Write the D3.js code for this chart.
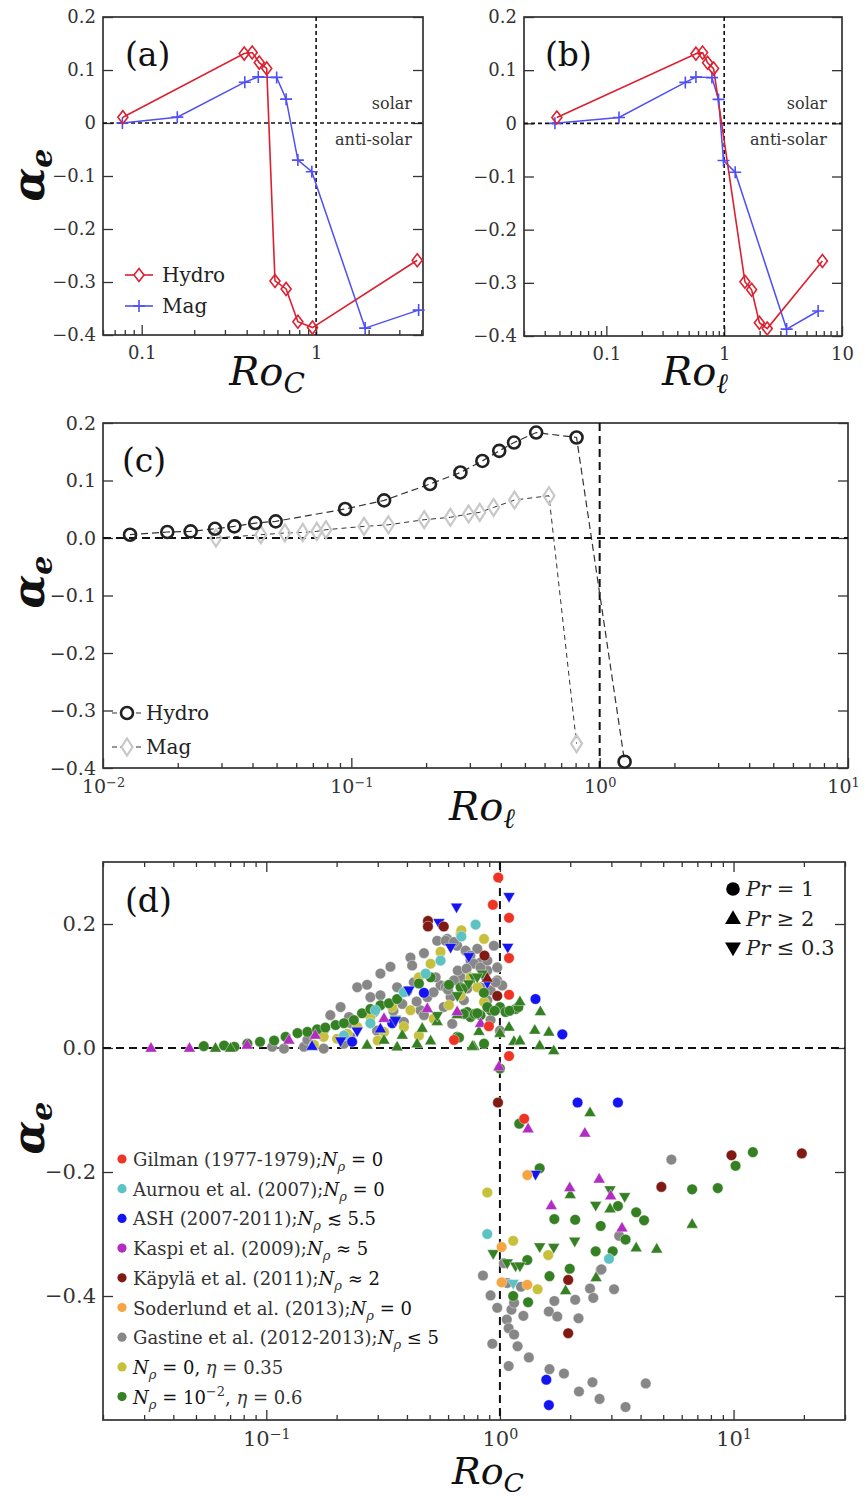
<!DOCTYPE html>
<html>
<head>
<meta charset="utf-8">
<title>alpha_e versus Rossby number</title>
<script src="https://d3js.org/d3.v7.min.js"></script>
<style>
  body { margin: 0; background: #fff; }
  text { font-family: 'DejaVu Serif', serif; }
</style>
</head>
<body>
<div id="container"></div>
<script>

// ---------- panels (a) and (b): Hydro / Mag sequences ----------
const hydroAlpha = [0.011, 0.131, 0.133, 0.114, 0.103, -0.298, -0.313, -0.375, -0.386, -0.259];
const hydroRoC   = [0.078, 0.387, 0.43, 0.472, 0.521, 0.581, 0.673, 0.786, 0.953, 3.8];
const hydroRoL   = [0.038, 0.576, 0.656, 0.723, 0.813, 1.50, 1.71, 1.99, 2.32, 6.82];

const magAlpha = [0, 0.011, 0.077, 0.087, 0.086, 0.045, -0.07, -0.092, -0.387, -0.353];
const magRoC   = [0.0775, 0.16, 0.39, 0.466, 0.594, 0.673, 0.786, 0.945, 1.91, 3.87];
const magRoL   = [0.0366, 0.128, 0.468, 0.576, 0.787, 0.896, 0.987, 1.24, 3.39, 6.27];

// ---------- panel (c) ----------
const hydroCRo    = [0.01285, 0.01815, 0.02254, 0.02825, 0.0338, 0.041, 0.0496, 0.0944, 0.1355, 0.2075, 0.275, 0.337, 0.394, 0.452, 0.555, 0.807, 1.26];
const hydroCAlpha = [0.0057, 0.0104, 0.0115, 0.016, 0.0202, 0.026, 0.029, 0.0504, 0.0654, 0.0939, 0.114, 0.134, 0.1516, 0.166, 0.1834, 0.1748, -0.389];
const magCRo      = [0.0285, 0.0432, 0.054, 0.0637, 0.0726, 0.079, 0.1125, 0.141, 0.1965, 0.2505, 0.2966, 0.329, 0.374, 0.454, 0.625, 0.807];
const magCAlpha   = [0, 0.0057, 0.0087, 0.0097, 0.0115, 0.0144, 0.0202, 0.023, 0.0318, 0.036, 0.0417, 0.0446, 0.0532, 0.066, 0.0735, -0.3576];

// ---------- panel (d): [Ro_C, alpha_e] ----------
const gastineCircle = [
  [0.106,0.002],[0.119,-0.001],[0.145,0.002],[0.176,-0.001],[0.215,0.007],[0.150,0.013],[0.176,0.028],[0.188,0.053],
  [0.208,0.066],[0.226,0.050],[0.229,0.018],[0.245,0.098],[0.270,0.102],[0.279,0.082],[0.298,0.028],[0.308,0.120],
  [0.308,0.085],[0.340,0.131],[0.363,0.098],[0.382,0.071],[0.388,0.042],[0.414,0.146],[0.421,0.133],[0.428,0.106],
  [0.457,0.061],[0.473,0.153],[0.473,0.053],[0.489,0.082],[0.539,0.173],[0.557,0.101],[0.575,0.066],[0.595,0.176],
  [0.615,0.082],[0.656,0.165],[0.679,0.114],[0.701,0.077],[0.725,0.096],[0.748,0.141],[0.800,0.160],[0.826,0.138],
  [0.826,0.098],[0.883,0.125],[0.912,0.093],[0.942,0.165],[0.974,0.109],[1.0,0.028],[0.883,0.077],[0.586,0.173],
  [0.636,0.171],[0.713,0.157],[0.748,0.149],[0.774,0.136],[0.826,0.130],[0.883,0.141],[0.974,0.130],[1.023,0.101],
  [0.959,0.106],[0.748,0.112],[0.636,0.109],[0.586,0.098],[0.531,0.114],[0.912,0.045],[0.625,0.039],[0.701,0.055],
  [0.23,0.040],[0.29,0.058],[0.35,0.060],[0.44,0.075],[0.52,0.090],[0.60,0.094],[0.66,0.125],[0.72,0.128],
  [5.42,-0.180],[3.24,-0.303],[2.70,-0.358],[3.08,-0.389],[2.43,-0.388],[2.51,-0.403],[2.10,-0.406],[1.71,-0.408],
  [0.846,-0.367],[0.912,-0.399],[0.974,-0.419],[1.075,-0.379],[1.23,-0.385],[1.12,-0.422],[1.62,-0.425],[1.76,-0.433],
  [2.17,-0.436],[1.26,-0.432],[1.07,-0.438],[1.04,-0.347],[1.15,-0.411],[1.09,-0.452],[1.15,-0.462],[0.928,-0.477],
  [1.19,-0.481],[1.33,-0.499],[1.09,-0.513],[1.63,-0.518],[1.88,-0.525],[2.49,-0.539],[2.18,-0.554],[2.67,-0.566],
  [3.45,-0.579],[4.21,-0.541],[2.72,-0.357]
];
const oliveCircle = [
  [0.176,0.018],[0.201,0.015],[0.222,0.023],[0.245,0.034],[0.279,0.050],[0.319,0.026],[0.346,0.066],[0.388,0.034],
  [0.414,0.061],[0.45,0.114],[0.505,0.136],[0.557,0.155],[0.679,0.184],[0.605,0.069],[0.521,0.047],[0.679,0.085],
  [0.748,0.114],[0.80,0.098],[0.855,0.176],[0.855,0.074],[0.684,0.190],[0.16,0.005],[0.30,0.012],[0.45,0.020],
  [0.883,-0.233],[1.14,-0.311],[1.61,-0.334],[1.45,-0.389]
];
const greenCircle = [
  [0.054,0.003],[0.066,0.004],[0.073,0.002],[0.083,0.007],[0.094,0.010],[0.108,0.012],[0.121,0.018],[0.136,0.024],
  [0.150,0.026],[0.165,0.030],[0.179,0.033],[0.198,0.037],[0.215,0.040],[0.237,0.045],[0.257,0.056],[0.279,0.063],
  [0.308,0.069],[0.335,0.072],[0.363,0.079],[0.401,0.092],[0.45,0.104],[0.505,0.114],[0.605,0.102],[0.679,0.098],
  [0.748,0.050],[0.826,0.053],[0.912,0.061],[1.0,0.066],[0.656,0.018],[0.854,0.089],[0.725,0.058],[0.883,0.066],
  [1.057,0.058],[1.167,0.063],[0.855,0.007],[0.668,0.017],[1.0,-0.033],[0.78,0.055],[0.95,0.060],[1.1,0.060],
  [1.2,0.066],[0.80,0.056],[0.70,0.055],
  [1.21,-0.122],[1.48,-0.194],[1.71,-0.276],[2.10,-0.277],[2.70,-0.287],[3.20,-0.255],[3.83,-0.265],[4.14,-0.278],
  [3.45,-0.309],[2.57,-0.328],[3.04,-0.328],[1.31,-0.342],[1.99,-0.356],[1.63,-0.368],[1.14,-0.400],[1.32,-0.410],
  [6.65,-0.228],[8.56,-0.226],[10.2,-0.190],[12.1,-0.168]
];
const greenUp = [
  [0.0606,-0.001],[0.0703,-0.001],[0.270,0.004],[0.319,0.012],[0.363,0.001],[0.442,0.006],[0.505,0.011],[0.774,0.002],
  [1.0,0.023],[0.465,0.031],[0.382,0.020],[0.539,0.042],[0.656,0.053],[0.813,0.026],[0.762,0.002],[1.094,0.033],
  [1.148,0.010],[1.218,0.011],[1.218,0.074],[1.49,0.058],[1.41,0.028],[1.62,0.025],[1.48,0.003],[1.70,-0.005],
  [2.43,-0.105],[2.0,-0.237],[2.96,-0.26],[3.83,-0.323],[4.69,-0.325],[6.65,-0.285],[2.58,-0.371],[1.91,-0.392]
];
const greenDown = [
  [0.713,0.098],[0.774,0.114],[0.841,0.12],[0.657,0.085],[0.539,0.053],[0.357,0.047],[0.736,0.104],[0.80,0.115],
  [0.936,-0.331],[1.075,-0.346],[1.167,-0.351],[1.218,-0.351],[1.48,-0.32],[1.70,-0.321],[2.09,-0.311],[2.57,-0.253],
  [2.96,-0.228],[3.42,-0.239]
];
const aurnouCircle = [[0.787,0.199],[0.684,0.180],[0.557,0.141],[0.481,0.120],[0.388,0.090],[0.293,0.061],[0.279,0.040],[0.215,0.020],[0.883,-0.300],[2.93,-0.340]];
const aurnouDown = [[1.14,-0.379]];
const ashCircle = [[0.233,0.010],[0.346,0.040],[0.473,0.089],[1.42,0.079],[1.85,0.022],[2.15,-0.088],[3.20,-0.088],[1.58,-0.535],[1.62,-0.576]];
const ashUp = [[0.157,0.002],[0.308,0.030]];
const ashDown = [[0.208,0.012],[0.245,0.028],[0.357,0.045],[0.408,0.094],[0.548,0.203],[0.652,0.228],[0.615,0.163],[0.736,0.148],[0.883,0.106],[1.094,0.245],[1.08,0.163],[1.42,-0.203]];
const kaspiUp = [
  [0.0321,-0.001],[0.0469,-0.001],[0.0828,0.004],[0.125,0.012],[0.162,0.020],[0.319,0.047],[0.489,0.063],[0.656,0.058],
  [0.826,0.039],[0.99,-0.031],[1.32,-0.131],[2.31,-0.138],[2.66,-0.212],[1.99,-0.226],[2.98,-0.239],[1.66,-0.255],[3.33,-0.291]
];
const kapylaCircle = [[0.492,0.205],[0.492,0.196],[0.575,0.196],[0.859,0.149],[0.974,0.084],[0.981,-0.088],[4.91,-0.224],[9.80,-0.173],[19.6,-0.170],[1.96,-0.374],[1.96,-0.460]];
const kapylaUp = [[0.883,0.112]];
const gilmanCircle = [[0.984,0.275],[0.933,0.231],[1.094,0.210],[1.094,0.145],[1.094,0.086],[0.897,0.035],[0.636,0.013],[1.094,-0.013],[1.27,-0.114]];
const soderlundCircle = [[1.31,-0.205],[1.017,-0.321],[1.017,-0.378],[1.31,-0.382]];

const legendNames = ['Gilman (1977-1979);', 'Aurnou et al. (2007);', 'ASH (2007-2011);', 'Kaspi et al. (2009);',
  'Käpylä et al. (2011);', 'Soderlund et al. (2013);', 'Gastine et al. (2012-2013);', '', ''];
const legendConds = [' = 0', ' = 0', ' ≲ 5.5', ' ≈ 5', ' ≈ 2', ' = 0', ' ≤ 5', ' = 0, ', ' = 10'];
const legendExp = ['', '', '', '', '', '', '', '', '−2'];
const legendEta = ['', '', '', '', '', '', '', '0.35', '0.6'];
const prLabels = ['= 1', '≥ 2', '≤ 0.3'];

// colours
const cGilman = '#ee3524', cAurnou = '#5cc2c3', cAsh = '#1414f2', cKaspi = '#b22cc2', cKapyla = '#801a12',
      cSoder = '#f5a542', cGastine = '#878787', cOlive = '#c6c03c', cGreen = '#358023';
const legendColors = [cGilman, cAurnou, cAsh, cKaspi, cKapyla, cSoder, cGastine, cOlive, cGreen];
const hydroRed = '#dc2030', magBlue = '#4f4ff5';

// ---------- svg ----------
const svg = d3.select('div#container').append('svg')
  .attr('width', 864)
  .attr('height', 1498);

function superscript(sel, exps) {
  sel.selectAll('.tick text').each(function(d, i) {
    const t = d3.select(this).text('');
    t.append('tspan').text('10');
    t.append('tspan').attr('dy', '-0.5em').attr('font-size', '0.68em').text(exps[i]);
  });
}

// frame + inward ticks, returns scales
function panel(box, xDom, yDom, opt) {
  const x = d3.scaleLog().domain(xDom).range([box.left, box.right]);
  const y = d3.scaleLinear().domain(yDom).range([box.bottom, box.top]);
  const g = svg.append('g');
  const isMajor = v => opt.xMajor.some(m => Math.abs(v / m - 1) < 1e-6);
  const minor = x.ticks().filter(v => !isMajor(v));

  const sides = opt.top ? ['bottom', 'top'] : ['bottom'];
  sides.forEach(side => {
    const ax = side === 'bottom' ? d3.axisBottom : d3.axisTop;
    const pos = side === 'bottom' ? box.bottom : box.top;
    g.append('g').attr('transform', `translate(0,${pos})`)
      .call(ax(x).tickValues(minor).tickSizeInner(-opt.minorLen).tickSizeOuter(0).tickFormat(''));
    const maj = g.append('g').attr('class', 'xmajor-' + side).attr('transform', `translate(0,${pos})`)
      .call(ax(x).tickValues(opt.xMajor).tickSizeInner(-opt.majorLen).tickSizeOuter(0)
        .tickPadding(opt.xPad).tickFormat(side === 'bottom' ? opt.xFormat : () => ''));
    if (side === 'bottom' && opt.xExp) superscript(maj, opt.xExp);
  });

  g.append('g').attr('transform', `translate(${box.left},0)`)
    .call(d3.axisLeft(y).tickValues(opt.yTicks).tickSizeInner(-opt.majorLen).tickSizeOuter(0)
      .tickPadding(opt.yPad).tickFormat(opt.yFormat));
  g.append('g').attr('transform', `translate(${box.right},0)`)
    .call(d3.axisRight(y).tickValues(opt.yTicks).tickSizeInner(-opt.majorLen).tickSizeOuter(0).tickFormat(''));

  g.selectAll('.domain').remove();
  g.selectAll('.tick line').attr('stroke', '#333').attr('stroke-width', 1.3);
  g.selectAll('.tick text')
    .attr('font-family', "'DejaVu Serif', serif")
    .attr('font-size', opt.fontSize)
    .attr('fill', '#333');

  g.append('rect')
    .attr('x', box.left).attr('y', box.top)
    .attr('width', box.right - box.left).attr('height', box.bottom - box.top)
    .attr('fill', 'none').attr('stroke', '#333').attr('stroke-width', 1.7);

  // reference lines at alpha = 0 and Ro = 1
  g.append('line').attr('x1', box.left).attr('x2', box.right).attr('y1', y(0)).attr('y2', y(0))
    .attr('stroke', '#111').attr('stroke-width', opt.refW).attr('stroke-dasharray', opt.refDash);
  g.append('line').attr('x1', x(1)).attr('x2', x(1)).attr('y1', box.top).attr('y2', box.bottom)
    .attr('stroke', '#111').attr('stroke-width', opt.refW).attr('stroke-dasharray', opt.refDash);

  return {x, y, g};
}

function alphaLabel(cx, cy) {
  const t = svg.append('text')
    .attr('transform', `translate(${cx},${cy}) rotate(-90)`)
    .attr('text-anchor', 'middle')
    .attr('font-family', "'DejaVu Serif', serif")
    .attr('font-weight', 'bold').attr('font-style', 'italic')
    .attr('font-size', 44).attr('fill', '#111');
  t.append('tspan').text('α');
  t.append('tspan').attr('dy', 8).attr('font-size', 30).text('e');
}

function roLabel(cx, by, sub, size) {
  const t = svg.append('text')
    .attr('x', cx).attr('y', by)
    .attr('text-anchor', 'middle')
    .attr('font-family', "'DejaVu Serif', serif")
    .attr('font-style', 'italic')
    .attr('font-size', size).attr('fill', '#111');
  t.append('tspan').text('Ro');
  t.append('tspan').attr('dy', 8).attr('font-size', size * 0.7).text(sub);
}

function panelTag(x, y, s) {
  svg.append('text').attr('x', x).attr('y', y)
    .attr('font-family', "'DejaVu Serif', serif")
    .attr('font-size', 33).attr('fill', '#111').text(s);
}

const diamondPath = 'M0,-6.5L5,0L0,6.5L-5,0Z';
const plusPath = 'M-6,0H6M0,-6V6';

// ---------- (a) and (b) ----------
const abOpt = {
  yTicks: [-0.4, -0.3, -0.2, -0.1, 0, 0.1, 0.2],
  yFormat: d => d === 0 ? '0' : d3.format('.1f')(d),
  majorLen: 10, minorLen: 5, xPad: 11, yPad: 7, fontSize: 18,
  refW: 1.6, refDash: '4,3'
};

function hydroMag(p, hydroX, magX) {
  const line = d3.line().x(d => p.x(d[0])).y(d => p.y(d[1]));
  const hydro = hydroX.map((v, i) => [v, hydroAlpha[i]]);
  const mag = magX.map((v, i) => [v, magAlpha[i]]);
  p.g.append('path').attr('d', line(mag)).attr('fill', 'none').attr('stroke', magBlue).attr('stroke-width', 1.5);
  p.g.append('path').attr('d', line(hydro)).attr('fill', 'none').attr('stroke', hydroRed).attr('stroke-width', 1.6);
  p.g.selectAll('.mag').data(mag).enter().append('path')
    .attr('transform', d => `translate(${p.x(d[0])},${p.y(d[1])})`)
    .attr('d', plusPath).attr('stroke', magBlue).attr('stroke-width', 1.6).attr('fill', 'none');
  p.g.selectAll('.hydro').data(hydro).enter().append('path')
    .attr('transform', d => `translate(${p.x(d[0])},${p.y(d[1])})`)
    .attr('d', diamondPath).attr('stroke', hydroRed).attr('stroke-width', 1.6).attr('fill', 'none');
}

function solarText(p, xr) {
  p.g.append('text').attr('x', xr).attr('y', 109).attr('text-anchor', 'end')
    .attr('font-size', 16).attr('fill', '#333').text('solar');
  p.g.append('text').attr('x', xr).attr('y', 145).attr('text-anchor', 'end')
    .attr('font-size', 16).attr('fill', '#333').text('anti-solar');
}

const pa = panel({left: 103, right: 423, top: 17, bottom: 335}, [0.06, 4.1], [-0.4, 0.2],
  Object.assign({xMajor: [0.1, 1], xFormat: d => d3.format('~g')(d)}, abOpt));
hydroMag(pa, hydroRoC, magRoC);
solarText(pa, 412);

// legend (a)
[['Hydro', hydroRed, diamondPath, 275], ['Mag', magBlue, plusPath, 306]].forEach(([name, col, sym, ly]) => {
  pa.g.append('line').attr('x1', 125).attr('x2', 153).attr('y1', ly).attr('y2', ly)
    .attr('stroke', col).attr('stroke-width', 1.6);
  pa.g.append('path').attr('transform', `translate(139,${ly})`).attr('d', sym)
    .attr('stroke', col).attr('stroke-width', 1.6).attr('fill', sym === diamondPath ? '#fff' : 'none');
  pa.g.append('text').attr('x', 162).attr('y', ly + 7).attr('font-size', 20).attr('fill', '#222').text(name);
});

const pb = panel({left: 524, right: 842, top: 17, bottom: 336}, [0.02, 10], [-0.4, 0.2],
  Object.assign({xMajor: [0.1, 1, 10], xFormat: d => d3.format('~g')(d)}, abOpt));
hydroMag(pb, hydroRoL, magRoL);
solarText(pb, 827);

panelTag(125, 66, '(a)');
panelTag(545, 66, '(b)');
alphaLabel(44, 175);
roLabel(267, 385, 'C', 40);
roLabel(695, 385, 'ℓ', 40);

// ---------- (c) ----------
const pc = panel({left: 103, right: 848, top: 423, bottom: 768}, [0.01, 10], [-0.4, 0.2], {
  xMajor: [0.01, 0.1, 1, 10], xExp: ['−2', '−1', '0', '1'], xFormat: d => d,
  yTicks: [-0.4, -0.3, -0.2, -0.1, 0, 0.1, 0.2], yFormat: d3.format('.1f'),
  majorLen: 10, minorLen: 5, xPad: 12, yPad: 7, fontSize: 19,
  refW: 2, refDash: '8,5'
});
// keep the last decade label inside the page
pc.g.selectAll('.xmajor-bottom .tick:last-of-type text').attr('dx', -5);
{
  const line = d3.line().x(d => pc.x(d[0])).y(d => pc.y(d[1]));
  const hydro = hydroCRo.map((v, i) => [v, hydroCAlpha[i]]);
  const mag = magCRo.map((v, i) => [v, magCAlpha[i]]);
  pc.g.append('path').attr('d', line(mag)).attr('fill', 'none')
    .attr('stroke', '#333').attr('stroke-width', 1).attr('stroke-dasharray', '5,4');
  pc.g.append('path').attr('d', line(hydro)).attr('fill', 'none')
    .attr('stroke', '#333').attr('stroke-width', 1.2).attr('stroke-dasharray', '7,4');
  pc.g.selectAll('.magc').data(mag).enter().append('path')
    .attr('transform', d => `translate(${pc.x(d[0])},${pc.y(d[1])})`)
    .attr('d', 'M0,-8.5L5.5,0L0,8.5L-5.5,0Z')
    .attr('fill', 'none').attr('stroke', '#c8c8c8').attr('stroke-width', 2.2);
  pc.g.selectAll('.hydroc').data(hydro).enter().append('circle')
    .attr('cx', d => pc.x(d[0])).attr('cy', d => pc.y(d[1])).attr('r', 6)
    .attr('fill', 'none').attr('stroke', '#222').attr('stroke-width', 2.6);

  // legend (c)
  [['Hydro', 713, true], ['Mag', 747, false]].forEach(([name, ly, isHydro]) => {
    pc.g.append('line').attr('x1', 112).attr('x2', 143).attr('y1', ly).attr('y2', ly)
      .attr('stroke', '#333').attr('stroke-width', 1.1).attr('stroke-dasharray', '5,3');
    if (isHydro) {
      pc.g.append('circle').attr('cx', 127).attr('cy', ly).attr('r', 6)
        .attr('fill', '#fff').attr('stroke', '#222').attr('stroke-width', 2.6);
    } else {
      pc.g.append('path').attr('transform', `translate(127,${ly})`).attr('d', 'M0,-8.5L5.5,0L0,8.5L-5.5,0Z')
        .attr('fill', '#fff').attr('stroke', '#c8c8c8').attr('stroke-width', 2.2);
    }
    pc.g.append('text').attr('x', 146).attr('y', ly + 7).attr('font-size', 20).attr('fill', '#222').text(name);
  });
}
panelTag(122, 472, '(c)');
alphaLabel(44, 582);
roLabel(482, 820, 'ℓ', 40);

// ---------- (d) ----------
const pd = panel({left: 103, right: 845, top: 862, bottom: 1420}, [0.02, 30], [-0.6, 0.3], {
  xMajor: [0.1, 1, 10], xExp: ['−1', '0', '1'], xFormat: d => d, top: true,
  yTicks: [-0.4, -0.2, 0, 0.2], yFormat: d3.format('.1f'),
  majorLen: 10, minorLen: 5, xPad: 11, yPad: 7, fontSize: 21,
  refW: 2, refDash: '8,5'
});

const triSize = 62;
const scatterGroups = [
  [cGastine, gastineCircle, 'c'], [cOlive, oliveCircle, 'c'],
  [cGreen, greenCircle, 'c'], [cGreen, greenUp, 'u'], [cGreen, greenDown, 'd'],
  [cAurnou, aurnouCircle, 'c'], [cAurnou, aurnouDown, 'd'],
  [cAsh, ashCircle, 'c'], [cAsh, ashUp, 'u'], [cAsh, ashDown, 'd'],
  [cKaspi, kaspiUp, 'u'],
  [cKapyla, kapylaCircle, 'c'], [cKapyla, kapylaUp, 'u'],
  [cGilman, gilmanCircle, 'c'], [cSoder, soderlundCircle, 'c']
];
const marks = pd.g.append('g');
scatterGroups.forEach(([col, pts, shape]) => {
  if (shape === 'c') {
    marks.append('g').selectAll('circle').data(pts).enter().append('circle')
      .attr('cx', d => pd.x(d[0])).attr('cy', d => pd.y(d[1])).attr('r', 5.3)
      .attr('fill', col).attr('stroke', '#fff').attr('stroke-width', 0.4);
  } else {
    marks.append('g').selectAll('path').data(pts).enter().append('path')
      .attr('transform', d => `translate(${pd.x(d[0])},${pd.y(d[1])})${shape === 'd' ? ' rotate(180)' : ''}`)
      .attr('d', d3.symbol(d3.symbolTriangle, triSize)())
      .attr('fill', col).attr('stroke', '#fff').attr('stroke-width', 0.4);
  }
});

// Pr legend
const prG = pd.g.append('g');
prLabels.forEach((lab, i) => {
  const ly = 889 + i * 29.5;
  if (i === 0) prG.append('circle').attr('cx', 733).attr('cy', ly).attr('r', 6.8).attr('fill', '#000');
  else prG.append('path').attr('transform', `translate(733,${ly + (i === 1 ? 1 : -1)})${i === 2 ? ' rotate(180)' : ''}`)
    .attr('d', d3.symbol(d3.symbolTriangle, 110)()).attr('fill', '#000');
  const t = prG.append('text').attr('x', 746).attr('y', ly + 7).attr('font-size', 21).attr('fill', '#222');
  t.append('tspan').attr('font-style', 'italic').text('Pr');
  t.append('tspan').text(' ' + lab);
});

// series legend
const legG = pd.g.append('g');
legendNames.forEach((name, i) => {
  const ly = 1159 + i * 29.7;
  legG.append('circle').attr('cx', 122).attr('cy', ly).attr('r', 4.6).attr('fill', legendColors[i]);
  const t = legG.append('text').attr('x', 133).attr('y', ly + 7).attr('font-size', 18).attr('fill', '#333');
  if (name) t.append('tspan').text(name);
  t.append('tspan').attr('font-style', 'italic').attr('fill', '#111').text('N');
  t.append('tspan').attr('font-style', 'italic').attr('font-size', 13).attr('dy', 5).text('ρ');
  t.append('tspan').attr('dy', -5).attr('fill', '#111').text(legendConds[i]);
  if (legendExp[i]) {
    t.append('tspan').attr('dy', -8).attr('font-size', 13).text(legendExp[i]);
    t.append('tspan').attr('dy', 8).text(',');
  }
  if (legendEta[i]) {
    t.append('tspan').attr('font-style', 'italic').text((legendExp[i] ? ' ' : '') + 'η');
    t.append('tspan').text(' = ' + legendEta[i]);
  }
});

panelTag(125, 912, '(d)');
alphaLabel(44, 1128);
roLabel(488, 1484, 'C', 38);

</script>
</body>
</html>
